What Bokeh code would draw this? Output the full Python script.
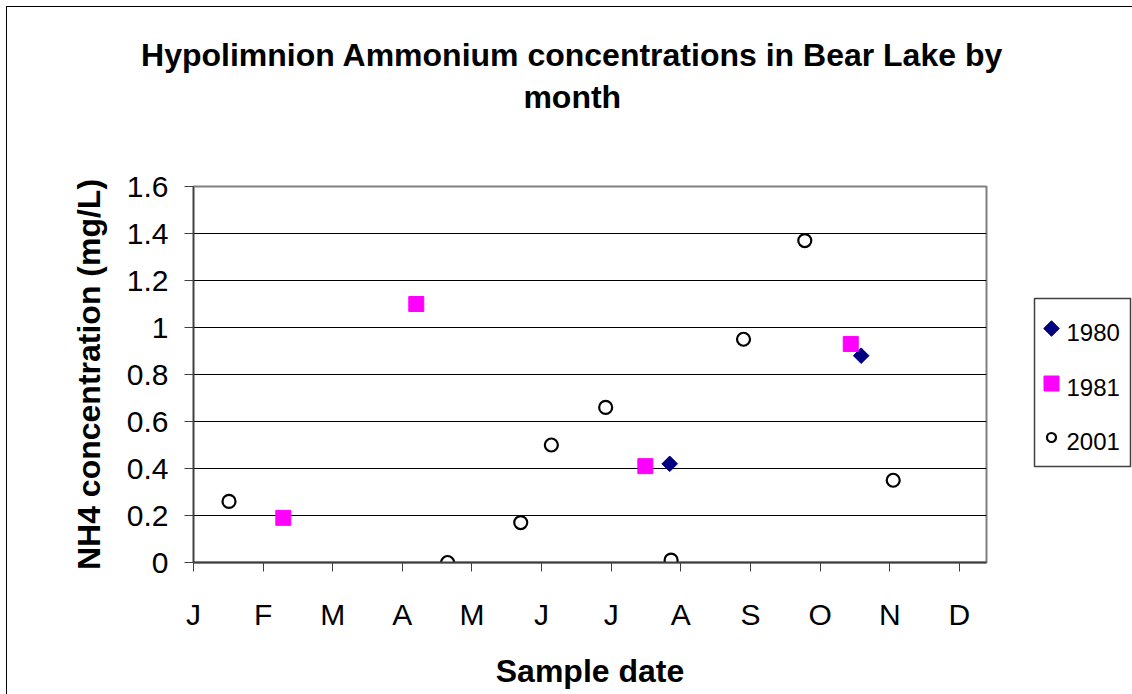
import math
from bokeh.plotting import figure
from bokeh.layouts import column, row
from bokeh.models import FixedTicker, Range1d
from bokeh.core.properties import value
from bokeh.embed import file_html
from bokeh.resources import INLINE

# ---- data (x in months since Jan 1; y in mg/L) ----
month_labels = ["J", "F", "M", "A", "M", "J", "J", "A", "S", "O", "N", "D"]

x_1980 = [6.84, 9.59]
y_1980 = [0.42, 0.88]

x_1981 = [1.29, 3.20, 6.49, 9.44]
y_1981 = [0.19, 1.10, 0.41, 0.93]

x_2001 = [0.51, 3.65, 4.70, 5.14, 5.92, 6.86, 7.90, 8.78, 10.05]
y_2001 = [0.26, 0.00, 0.17, 0.50, 0.66, 0.01, 0.95, 1.37, 0.35]

title_lines = ["Hypolimnion Ammonium concentrations in Bear Lake by", "month"]
series_names = ["1980", "1981", "2001"]

FONT = "Liberation Sans"

# ---------------- title strip ----------------
TW, TH = 1125, 140
pt = figure(width=TW, height=TH, output_backend="svg", toolbar_location=None,
            x_range=Range1d(0, TW), y_range=Range1d(0, TH),
            x_axis_type=None, y_axis_type=None,
            min_border_left=0, min_border_right=0, min_border_top=0, min_border_bottom=0)
pt.grid.visible = False
pt.outline_line_color = None
pt.background_fill_color = "white"
pt.border_fill_color = "white"
title_x = [TW * 0.502, TW * 0.502]
title_y = [93, 51]
pt.text(x=title_x, y=title_y, text=title_lines, text_align="center",
        text_baseline="alphabetic", text_font=value(FONT), text_font_style="bold",
        text_font_size="32px", text_color="#000000")

# ---------------- main plot ----------------
BT, BB = 39, 132
PH = BT + 376 + BB
p = figure(width=999, height=PH, output_backend="svg", toolbar_location=None,
           x_range=(0, 11.39), y_range=(0, 1.6),
           min_border_left=186, min_border_right=20,
           min_border_top=BT, min_border_bottom=BB)
p.background_fill_color = "white"
p.border_fill_color = "white"
p.outline_line_color = "#808080"
p.outline_line_width = 2

p.xgrid.grid_line_color = None
p.ygrid.grid_line_color = "#000000"
p.ygrid.grid_line_width = 1
p.ygrid.ticker = FixedTicker(ticks=[0.2, 0.4, 0.6, 0.8, 1.0, 1.2, 1.4])

xa = p.xaxis[0]
xa.ticker = FixedTicker(ticks=list(range(12)))
xa.major_label_overrides = {i: m for i, m in enumerate(month_labels)}
xa.minor_tick_line_color = None
xa.major_tick_in = 0
xa.major_tick_out = 9
xa.axis_line_color = "#404040"
xa.axis_line_width = 2
xa.major_tick_line_color = "#404040"
xa.major_label_text_font = FONT
xa.major_label_text_font_size = "30px"
xa.major_label_text_color = "#000000"
xa.major_label_standoff = 26
xa.axis_label = "Sample date"
xa.axis_label_text_font = FONT
xa.axis_label_text_font_style = "bold"
xa.axis_label_text_font_size = "32px"
xa.axis_label_text_color = "#000000"
xa.axis_label_standoff = 19

ya = p.yaxis[0]
ya.ticker = FixedTicker(ticks=[0, 0.2, 0.4, 0.6, 0.8, 1.0, 1.2, 1.4, 1.6])
ya.major_label_overrides = {0: "0", 1: "1"}
ya.minor_tick_line_color = None
ya.major_tick_in = 0
ya.major_tick_out = 9
ya.axis_line_color = "#404040"
ya.axis_line_width = 1.5
ya.major_tick_line_color = "#404040"
ya.major_label_text_font = FONT
ya.major_label_text_font_size = "30px"
ya.major_label_text_color = "#000000"
ya.major_label_standoff = 16
ya.axis_label = "NH4 concentration (mg/L)"
ya.axis_label_text_font = FONT
ya.axis_label_text_font_style = "bold"
ya.axis_label_text_font_size = "32px"
ya.axis_label_text_color = "#000000"
ya.axis_label_standoff = 17

p.scatter(x_1980, y_1980, marker="square", angle=math.pi / 4, size=11,
          fill_color="#000080", line_color="#000080", line_width=1)
p.scatter(x_1981, y_1981, marker="square", size=15,
          fill_color="#FF00FF", line_color="#FF00FF", line_width=1)
p.scatter(x_2001, y_2001, marker="circle", size=13,
          fill_color="white", line_color="black", line_width=2.2)

# ---------------- legend panel (same frame height as main plot) ----------------
LW, LH = 126, 376
pl = figure(width=LW, height=PH, output_backend="svg", toolbar_location=None,
            x_range=Range1d(0, LW), y_range=Range1d(0, LH),
            x_axis_type=None, y_axis_type=None,
            min_border_left=0, min_border_right=0, min_border_top=BT, min_border_bottom=BB)
pl.grid.visible = False
pl.background_fill_color = "white"
pl.border_fill_color = "white"
pl.outline_line_color = None
box_left, box_right, box_bottom, box_top = 28, 124, 96, 264
pl.quad(left=[box_left], right=[box_right], bottom=[box_bottom], top=[box_top],
        fill_color="white", line_color="#404040", line_width=1.5)
leg_marker_x = 45
leg_marker_y = [234, 179, 125]
leg_text_x = 60
leg_text_y = [230.5, 175.5, 121.5]
pl.scatter([leg_marker_x], [leg_marker_y[0]], marker="square", angle=math.pi / 4, size=11,
           fill_color="#000080", line_color="#000080", line_width=1)
pl.scatter([leg_marker_x], [leg_marker_y[1]], marker="square", size=15,
           fill_color="#FF00FF", line_color="#FF00FF", line_width=1)
pl.scatter([leg_marker_x], [leg_marker_y[2]], marker="circle", size=9,
           fill_color="white", line_color="black", line_width=2.2)
pl.text(x=[leg_text_x] * 3, y=leg_text_y, text=series_names, text_align="left",
        text_baseline="middle", text_font=value(FONT), text_font_size="24px",
        text_color="#000000")

layout = column(pt, row(p, pl, spacing=0), spacing=0)
layout.styles = {"margin-left": "6px", "margin-top": "6px",
                 "border-left": "1px solid #000000", "border-top": "1px solid #000000"}

open("out.html", "w").write(file_html(layout, INLINE))
